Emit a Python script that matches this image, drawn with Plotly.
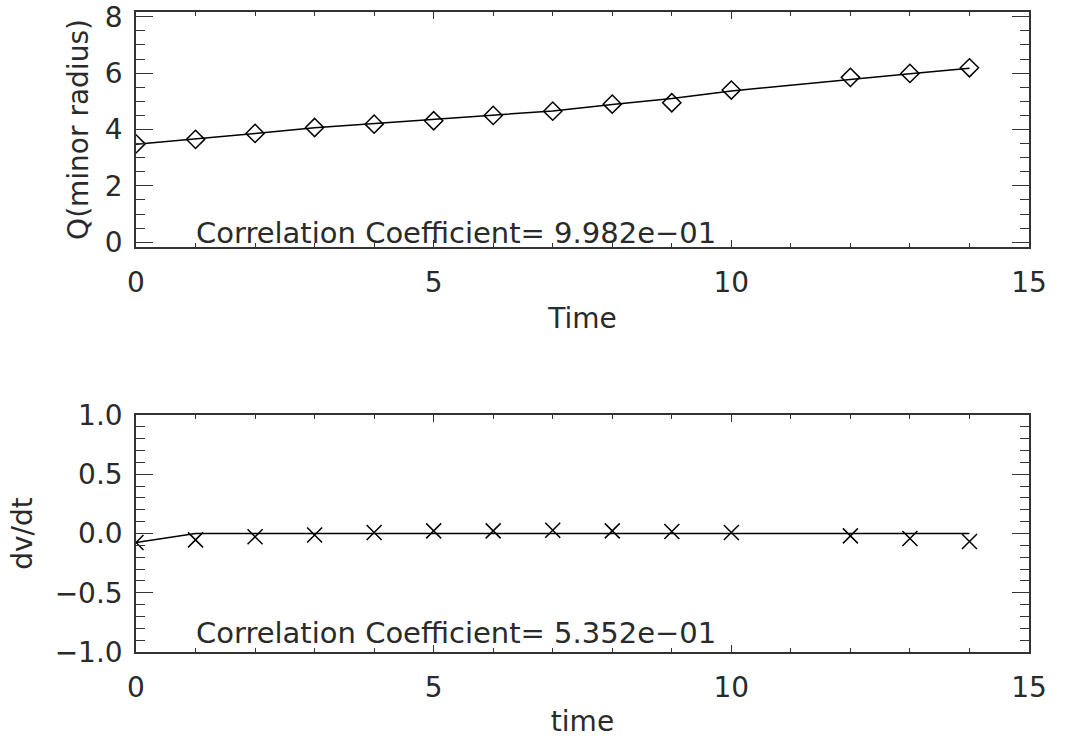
import plotly.graph_objects as go

# ---- data ----
time = [0, 1, 2, 3, 4, 5, 6, 7, 8, 9, 10, 12, 13, 14]
q_minor = [3.49, 3.65, 3.86, 4.07, 4.19, 4.31, 4.50, 4.65, 4.90, 4.95, 5.40, 5.85, 5.99, 6.19]
q_fit = [3.48, 3.66, 3.86, 4.06, 4.21, 4.35, 4.50, 4.66, 4.89, 5.10, 5.37, 5.79, 5.98, 6.17]
dvdt = [-0.076, -0.054, -0.028, -0.012, 0.008, 0.022, 0.022, 0.028, 0.022, 0.017, 0.008, -0.020, -0.042, -0.067]
dvdt_fit_t = [0, 1, 14]
dvdt_fit = [-0.076, 0.0, 0.0]
corr_top = "9.982e\u221201"
corr_bot = "5.352e\u221201"

W, H = 1066, 738
FONT = "DejaVu Sans"
TXT = "#2a2a2a"
LINE = "#333333"

fig = go.Figure()
fig.add_trace(go.Scatter(x=time, y=q_fit, mode="lines", line=dict(color="black", width=1.5),
                         xaxis="x", yaxis="y", hoverinfo="skip"))
fig.add_trace(go.Scatter(x=time, y=q_minor, mode="markers",
                         marker=dict(symbol="diamond-open", size=14, color="black", line=dict(width=1.5)),
                         xaxis="x", yaxis="y"))
fig.add_trace(go.Scatter(x=dvdt_fit_t, y=dvdt_fit, mode="lines", line=dict(color="black", width=1.5),
                         xaxis="x2", yaxis="y2", hoverinfo="skip"))
fig.add_trace(go.Scatter(x=time, y=dvdt, mode="markers",
                         marker=dict(symbol="x-thin-open", size=15, color="black", line=dict(width=1.5, color="black")),
                         xaxis="x2", yaxis="y2"))

xl, xr = 136 / W, 1029 / W


def xaxis(anchor, title):
    return dict(domain=[xl, xr], anchor=anchor, range=[0, 15], tick0=0, dtick=5,
                ticks="inside", ticklen=7, tickwidth=1, tickcolor=LINE,
                minor=dict(dtick=1, ticklen=4, ticks="inside", tickcolor=LINE, tickwidth=1),
                showline=True, linecolor=LINE, linewidth=1.5, mirror="allticks",
                showgrid=False, zeroline=False, ticklabelstandoff=10, automargin=False,
                tickfont=dict(family=FONT, size=28, color=TXT),
                title=dict(text=title, font=dict(family=FONT, size=28, color=TXT), standoff=10))


def yaxis(anchor, dom, rng, dtick, mdtick, title, standoff, fmt=None):
    d = dict(domain=dom, anchor=anchor, range=rng, tick0=0, dtick=dtick,
             ticks="inside", ticklen=17, tickwidth=1, tickcolor=LINE,
             minor=dict(dtick=mdtick, ticklen=9, ticks="inside", tickcolor=LINE, tickwidth=1),
             showline=True, linecolor=LINE, linewidth=1.5, mirror="allticks",
             showgrid=False, zeroline=False, ticklabelstandoff=6, automargin=False,
             tickfont=dict(family=FONT, size=28, color=TXT),
             title=dict(text=title, font=dict(family=FONT, size=28, color=TXT), standoff=standoff))
    if fmt:
        d["tickformat"] = fmt
    return d


fig.update_layout(
    width=W, height=H,
    margin=dict(l=0, r=0, t=0, b=0, autoexpand=False),
    paper_bgcolor="white", plot_bgcolor="white",
    showlegend=False,
    xaxis=xaxis("y", "Time"),
    yaxis=yaxis("x", [1 - 247 / H, 1 - 12 / H], [-0.17, 8.17], 2, 0.5, "Q(minor radius)", 8),
    xaxis2=xaxis("y2", "time"),
    yaxis2=yaxis("x2", [1 - 652 / H, 1 - 415 / H], [-1.0, 1.0], 0.5, 0.1, "dv/dt", 14, ".1f"),
    annotations=[
        dict(text="Correlation Coefficient= " + corr_top, xref="paper", yref="paper",
             x=194 / W, y=1 - 233 / H, xanchor="left", yanchor="middle", showarrow=False,
             font=dict(family=FONT, size=29, color=TXT)),
        dict(text="Correlation Coefficient= " + corr_bot, xref="paper", yref="paper",
             x=194 / W, y=1 - 633 / H, xanchor="left", yanchor="middle", showarrow=False,
             font=dict(family=FONT, size=29, color=TXT)),
    ],
)

fig.write_html("out.html")
